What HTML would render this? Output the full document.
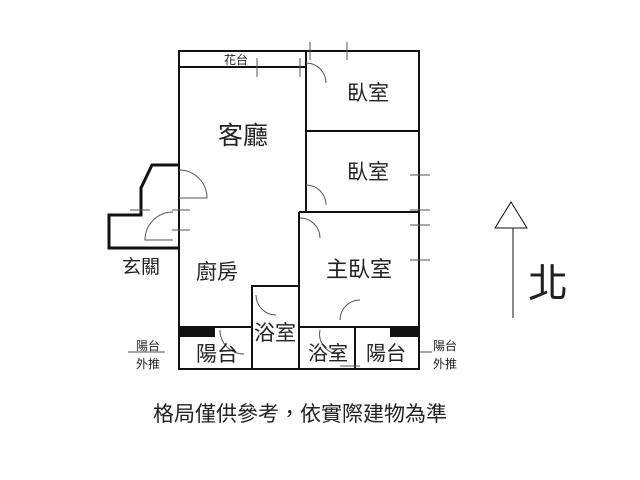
<!DOCTYPE html><html><head><meta charset="utf-8"><style>body{margin:0;background:#fff}svg{display:block}text{font-family:"Liberation Sans","Noto Sans CJK TC",sans-serif;fill:#222;text-anchor:middle}</style></head><body>
<svg width="640" height="480" viewBox="0 0 640 480">
<g stroke="#111" stroke-width="2" fill="none">
<rect x="179" y="51" width="240" height="318"/>
<line x1="179" y1="67" x2="306" y2="67"/>
<line x1="306" y1="51" x2="306" y2="213"/>
<line x1="306" y1="131" x2="419" y2="131"/>
<line x1="299" y1="212" x2="419" y2="212"/>
<line x1="299" y1="212" x2="299" y2="369"/>
<polyline points="252,369 252,286 299,286"/>
<line x1="179" y1="327" x2="252" y2="327"/>
<line x1="299" y1="327" x2="419" y2="327"/>
<line x1="355" y1="327" x2="355" y2="369"/>
<polyline stroke-width="3" points="179,165 152,165 141,188 141,215 109,215 109,248 179,248"/>
</g>
<rect x="179" y="327" width="36" height="10" fill="#111"/>
<rect x="390" y="327" width="29" height="10" fill="#111"/>
<g stroke="#555" stroke-width="1" fill="none">
<path d="M179,170 A28,28 0 0 1 207,198 L179,198"/>
<path d="M173,212 A28,28 0 0 0 145,240 L173,240"/>
<path d="M306,63 A20,20 0 0 1 326,83"/>
<path d="M306,185 A20,20 0 0 1 326,205"/>
<path d="M300,218 A20,20 0 0 1 320,238"/>
<path d="M256,295 A20,20 0 0 0 276,315"/>
<path d="M220,330 A24,24 0 0 0 244,354"/>
<path d="M320,330 A20,20 0 0 0 340,354"/>
<path d="M340,320 A20,20 0 0 1 360,300"/>
<line x1="410" y1="175" x2="430" y2="175"/><line x1="410" y1="210" x2="430" y2="210"/>
<line x1="410" y1="225" x2="430" y2="225"/><line x1="410" y1="260" x2="430" y2="260"/>
<line x1="257" y1="58" x2="257" y2="77"/><line x1="300" y1="58" x2="300" y2="77"/>
<line x1="310" y1="42" x2="310" y2="60"/><line x1="347" y1="42" x2="347" y2="60"/>
<line x1="130" y1="210" x2="150" y2="210"/><line x1="172" y1="210" x2="190" y2="210"/>
<line x1="172" y1="230" x2="190" y2="230"/>
<line x1="128" y1="352" x2="165" y2="352"/><line x1="420" y1="352" x2="432" y2="352"/>
<line x1="340" y1="366" x2="360" y2="366"/>
</g>
<g stroke="#111" stroke-width="1" fill="none"><polygon points="495,228 511,202 527,228"/><line x1="513" y1="228" x2="513" y2="318"/></g>
<text x="236" y="64" font-size="12">花台</text>
<text x="243" y="144" font-size="25">客廳</text>
<text x="368" y="100" font-size="21">臥室</text>
<text x="368" y="179" font-size="21">臥室</text>
<text x="359" y="277" font-size="22">主臥室</text>
<text x="217" y="279" font-size="21">廚房</text>
<text x="141" y="273" font-size="19">玄關</text>
<text x="275" y="340" font-size="21">浴室</text>
<text x="217" y="361" font-size="21">陽台</text>
<text x="328" y="360" font-size="20">浴室</text>
<text x="386" y="360" font-size="20">陽台</text>
<text x="148" y="350" font-size="12">陽台</text><text x="148" y="368" font-size="12">外推</text>
<text x="445" y="350" font-size="12">陽台</text><text x="445" y="368" font-size="12">外推</text>
<text x="548" y="297" font-size="40">北</text>
<text x="300" y="421" font-size="21">格局僅供參考，依實際建物為準</text>
</svg></body></html>
